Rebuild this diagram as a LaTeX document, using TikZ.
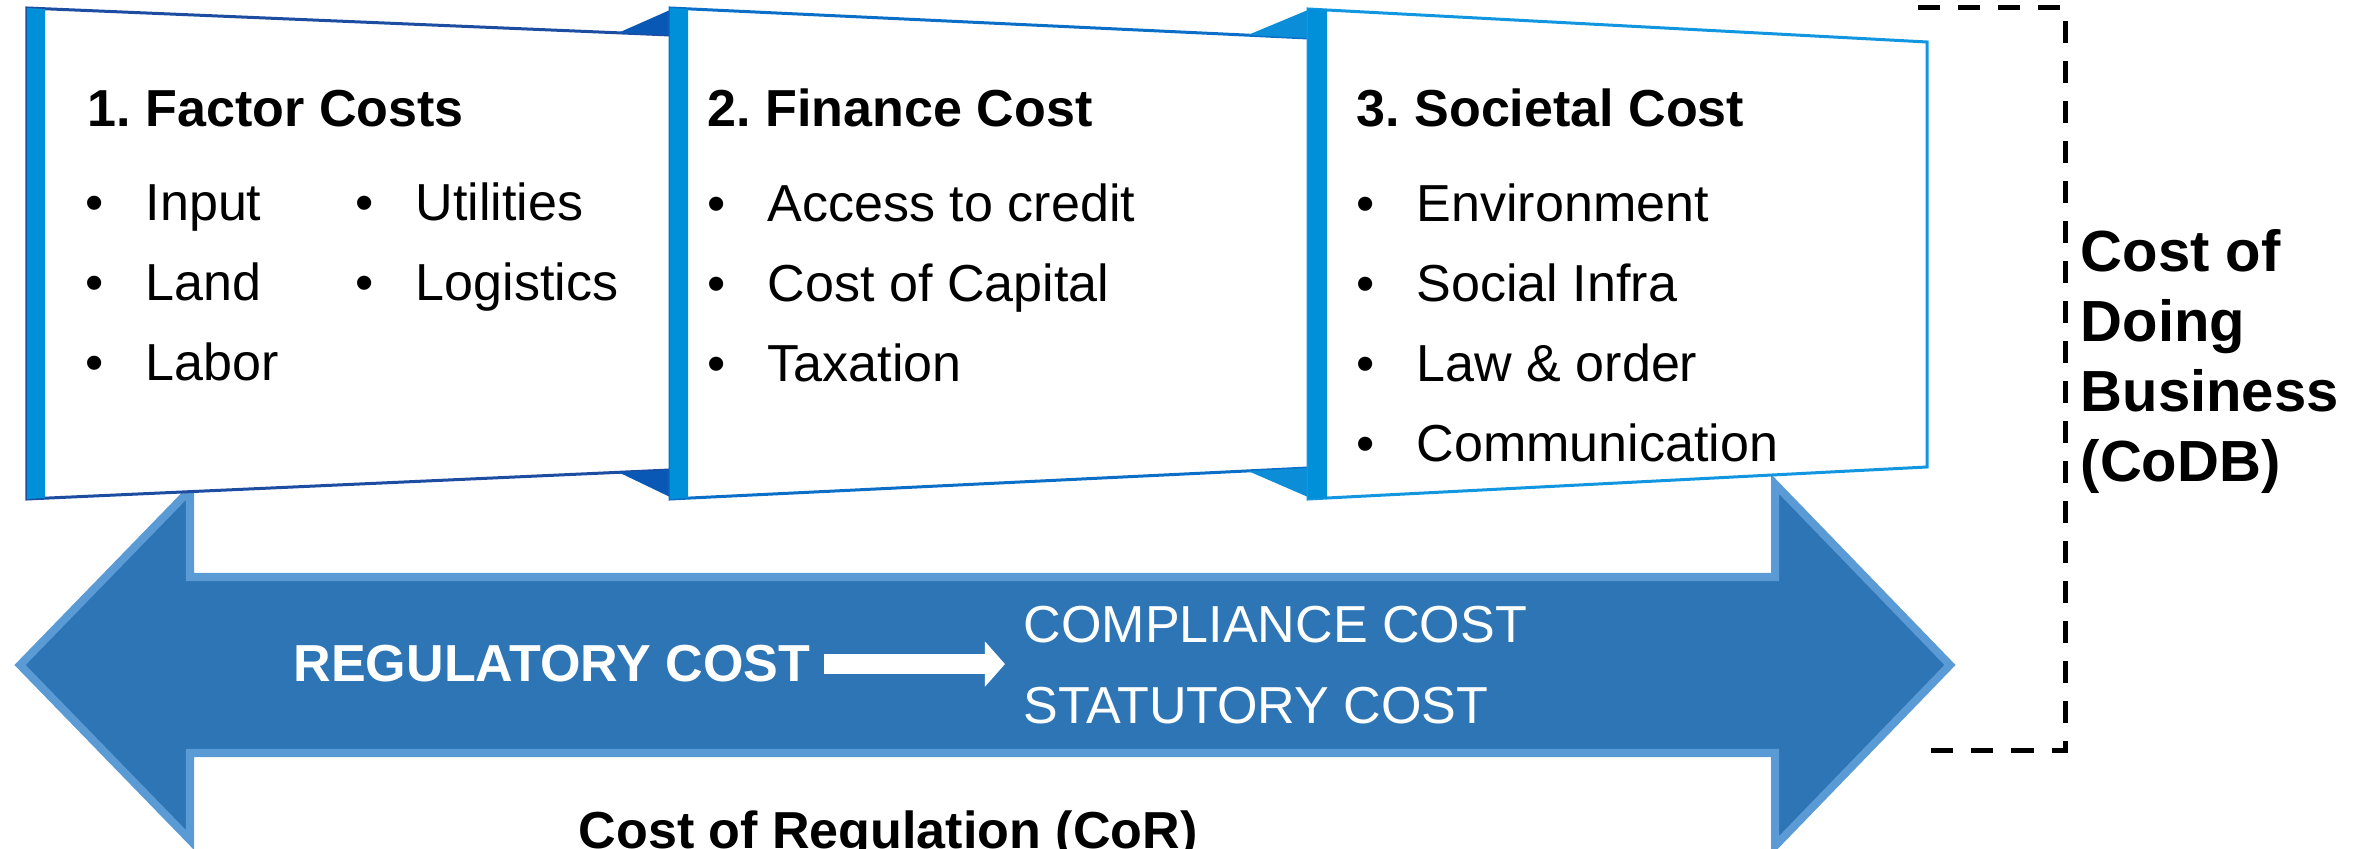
\documentclass[tikz,border=0pt]{standalone}
\usepackage{fontspec}
\setmainfont{Liberation Sans}
\usetikzlibrary{arrows.meta}
\frenchspacing

\definecolor{barblue}{HTML}{0090DA}
\definecolor{folddark}{HTML}{0A58B5}
\definecolor{foldlight}{HTML}{0B8DD8}
\definecolor{edgeone}{HTML}{1C4DA1}
\definecolor{edgetwo}{HTML}{0B6FC7}
\definecolor{edgethree}{HTML}{1296DF}
\definecolor{regfill}{HTML}{2E75B6}
\definecolor{regedge}{HTML}{5B9BD5}

\tikzset{
  txt/.style={anchor=base west, inner sep=0pt, font=\fontsize{14.8}{17.8}\selectfont},
  head/.style={anchor=base west, inner sep=0pt, font=\fontsize{14.8}{17.8}\selectfont\bfseries},
  panel/.style={fill=white, line width=0.03cm},
  bar/.style={fill=barblue},
  regshape/.style={fill=regfill, draw=regedge, line width=0.08cm},
  codbline/.style={line width=0.05cm, dash pattern=on 0.22cm off 0.18cm},
}
\newcommand{\costitem}[1]{\makebox[0.6cm][l]{\textbullet}#1}

\begin{document}
\begin{tikzpicture}[x=0.01cm, y=-0.01cm]
        \useasboundingbox (0,0) rectangle (2354,849);

        % big double arrow
        \draw[regshape] (20,665) -- (190,490) -- (190,577) -- (1775,577) -- (1775,484)
            -- (1950,665) -- (1775,846) -- (1775,753) -- (190,753) -- (190,840) -- cycle;

        % panel 1
        \draw[panel, draw=edgeone] (670,35) -- (27,8) -- (27,499) -- (670,470);
        \fill[bar] (27,8) -- (45,9) -- (45,498) -- (27,499) -- cycle;
        \fill[folddark] (618,33) -- (670,10) -- (670,35) -- cycle;
        \fill[folddark] (618,472) -- (670,497) -- (670,470) -- cycle;

        % panel 2
        \draw[panel, draw=edgetwo] (1308,38) -- (670,8) -- (670,499) -- (1308,468);
        \fill[bar] (670,8) -- (688,9) -- (688,498) -- (670,499) -- cycle;
        \fill[foldlight] (1248,35) -- (1308,10) -- (1308,38) -- cycle;
        \fill[foldlight] (1248,471) -- (1308,497) -- (1308,468) -- cycle;

        % panel 3
        \draw[panel, draw=edgethree] (1308,9) -- (1927,42) -- (1927,467) -- (1308,499) -- cycle;
        \fill[bar] (1308,9) -- (1327,10) -- (1327,498) -- (1308,499) -- cycle;

        \node[head] (factor) at (87,127) {1. Factor Costs};
        \node[txt] (input) at (85,221) {\costitem{Input}};
        \node[txt] (land) at (85,301) {\costitem{Land}};
        \node[txt] (labor) at (85,381) {\costitem{Labor}};
        \node[txt] (util) at (355,221) {\costitem{Utilities}};
        \node[txt] (logi) at (355,301) {\costitem{Logistics}};

        \node[head] (finance) at (707,127) {2. Finance Cost};
        \node[txt] (credit) at (707,222) {\costitem{Access to credit}};
        \node[txt] (capital) at (707,302) {\costitem{Cost of Capital}};
        \node[txt] (tax) at (707,382) {\costitem{Taxation}};

        \node[head] (societal) at (1356,127) {3. Societal Cost};
        \node[txt] (env) at (1356,222) {\costitem{Environment}};
        \node[txt] (infra) at (1356,302) {\costitem{Social Infra}};
        \node[txt] (law) at (1356,382) {\costitem{Law \& order}};
        \node[txt] (comm) at (1356,462) {\costitem{Communication}};

        % regulation
        \node[head, text=white] (reg) at (293,682) {REGULATORY COST};
        \node[anchor=west, inner sep=0pt, align=left, text=white,
            font=\fontsize{14.8}{23.2}\selectfont] (comp) at (1023,665) {COMPLIANCE COST\\STATUTORY COST};
        \draw[white, line width=0.2cm, -{Triangle[width=0.44cm, length=0.2cm]},
            shorten <=0.13cm, shorten >=0.18cm] (reg.east) -- (reg.east -| comp.west);
        \node[head] (cor) at (578,848) {Cost of Regulation (CoR)};

        % doing business
        \draw[codbline] (1918,8) -- (2065,8) -- (2065,750) -- (1918,750);
        \node[anchor=north west, inner sep=0pt, align=left,
            font=\fontsize{16.5}{19.9}\selectfont\bfseries] (codb) at (2080,229) {Cost of\\Doing\\Business\\(CoDB)};
\end{tikzpicture}
\end{document}
